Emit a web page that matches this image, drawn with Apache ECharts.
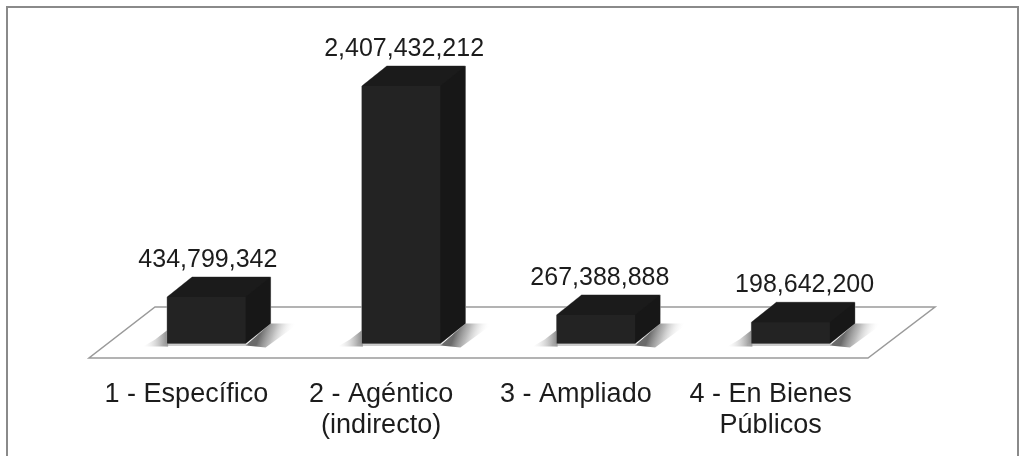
<!DOCTYPE html>
<html><head><meta charset="utf-8">
<style>html,body{margin:0;padding:0;background:#fff}#c{width:1020px;height:456px}</style>
<script src="https://cdn.jsdelivr.net/npm/echarts@6/dist/echarts.min.js"></script>
</head><body><div id="c"></div>
<script>
const categories = ['1 - Específico', '2 - Agéntico\n(indirecto)', '3 - Ampliado', '4 - En Bienes\nPúblicos'];
const values = [434799342, 2407432212, 267388888, 198642200];

const FONT = '"Liberation Sans", Arial, sans-serif';
const FLOOR = {dx: 66, dy: -51};         // floor depth
const BASE = {dx: 20, dy: -14.5};        // bar front plane relative to the axis line
const DEPTH = {dx: 25, dy: -20};         // bar depth
const LABEL_DX = [1.5, 3, 4, 14];

function fmt(v){ return v.toLocaleString('en-US'); }

const chart = echarts.init(document.getElementById('c'), null, {renderer:'canvas'});
chart.setOption({
  animation: false,
  backgroundColor: '#fff',
  graphic: [{
    type: 'rect', silent: true, z: -10,
    shape: {x: 7, y: 7, width: 1011, height: 460},
    style: {fill: '#fff', stroke: '#8a8a8a', lineWidth: 2}
  }],
  grid: {left: 89, width: 779, bottom: 98, top: 90.6},
  xAxis: {
    type: 'category', data: categories,
    axisLine: {show: false}, axisTick: {show: false}, splitLine: {show: false},
    axisLabel: {color: '#1c1c1c', fontFamily: FONT, fontSize: 27, lineHeight: 31, margin: 21, interval: 0}
  },
  yAxis: {type: 'value', min: 0, max: 2500000000, show: false, splitLine: {show: false}},
  series: [{
    type: 'custom', z: 1, silent: true, clip: false,
    coordinateSystem: 'cartesian2d',
    data: [[0, 0]],
    renderItem(params, api) {
      const g = params.coordSys;
      const b = g.y + g.height, l = g.x, r = g.x + g.width;
      return {type: 'polygon', shape: {points: [[l, b], [r, b], [r + FLOOR.dx + 1, b + FLOOR.dy], [l + FLOOR.dx, b + FLOOR.dy]]},
        style: {fill: '#fff', stroke: '#9a9a9a', lineWidth: 1.5}};
    }
  }, {
    type: 'custom', z: 2, silent: true, clip: false,
    coordinateSystem: 'cartesian2d',
    data: values.map((v, i) => [i, v]),
    renderItem(params, api) {
      const i = api.value(0);
      const v = api.value(1);
      const p0 = api.coord([i, 0]);
      const p1 = api.coord([i, v]);
      const w = api.size([1, 0])[0] * 0.403;
      const x0 = p0[0] + BASE.dx - w / 2, x1 = x0 + w;
      const yb = p0[1] + BASE.dy, yt = p1[1] + BASE.dy;
      const dx = DEPTH.dx, dy = DEPTH.dy;
      return {type: 'group', children: [
        // floor shadow to the right of the bar
        {type: 'polygon', shape: {points: [[x1, yb + 2], [x1 + dx, yb + dy], [x1 + dx + 28, yb + dy], [x1 + 20, yb + 4]]},
          style: {fill: {type: 'linear', x: x1 + dx / 2 + 2, y: yb + dy / 2, x2: x1 + dx / 2 + 30, y2: yb + dy / 2 + 10, global: true,
            colorStops: [{offset: 0, color: 'rgba(90,90,90,0.9)'}, {offset: 0.4, color: 'rgba(140,140,140,0.6)'}, {offset: 1, color: 'rgba(240,240,240,0)'}]}}},
        // floor shadow to the left of the bar
        {type: 'polygon', shape: {points: [[x0 - 24, yb + 3], [x0 + 1, yb + 3], [x0 + 1, yb - 14], [x0 - 12, yb - 4]]},
          style: {fill: {type: 'linear', x: x0 - 24, y: 0, x2: x0 + 1, y2: 0, global: true,
            colorStops: [{offset: 0, color: 'rgba(220,220,220,0)'}, {offset: 1, color: 'rgba(110,110,110,0.85)'}]}}},
        // soft contact line under the front
        {type: 'rect', shape: {x: x0 - 4, y: yb, width: w + 6, height: 2.5}, style: {fill: 'rgba(170,170,170,0.6)'}},
        // light silhouette edge
        {type: 'polygon', shape: {points: [[x0, yt], [x0 + dx, yt + dy], [x1 + dx, yt + dy], [x1 + dx, yb + dy], [x1, yb], [x0, yb]]},
          style: {fill: '#1b1b1b', stroke: '#a5a5a5', lineWidth: 1}},
        // top
        {type: 'polygon', shape: {points: [[x0, yt], [x1, yt], [x1 + dx, yt + dy], [x0 + dx, yt + dy]]},
          style: {fill: '#1b1b1b'}},
        // side
        {type: 'polygon', shape: {points: [[x1, yt], [x1 + dx, yt + dy], [x1 + dx, yb + dy], [x1, yb]]},
          style: {fill: '#171717'}},
        // front
        {type: 'rect', shape: {x: x0, y: yt, width: w, height: yb - yt}, style: {fill: '#232323'}},
        // value label
        {type: 'text', style: {
          x: p0[0] + BASE.dx + LABEL_DX[i], y: yt + dy - 17,
          text: fmt(v), align: 'center', verticalAlign: 'middle',
          fill: '#1c1c1c', font: '25px ' + FONT}}
      ]};
    }
  }]
});
</script></body></html>
